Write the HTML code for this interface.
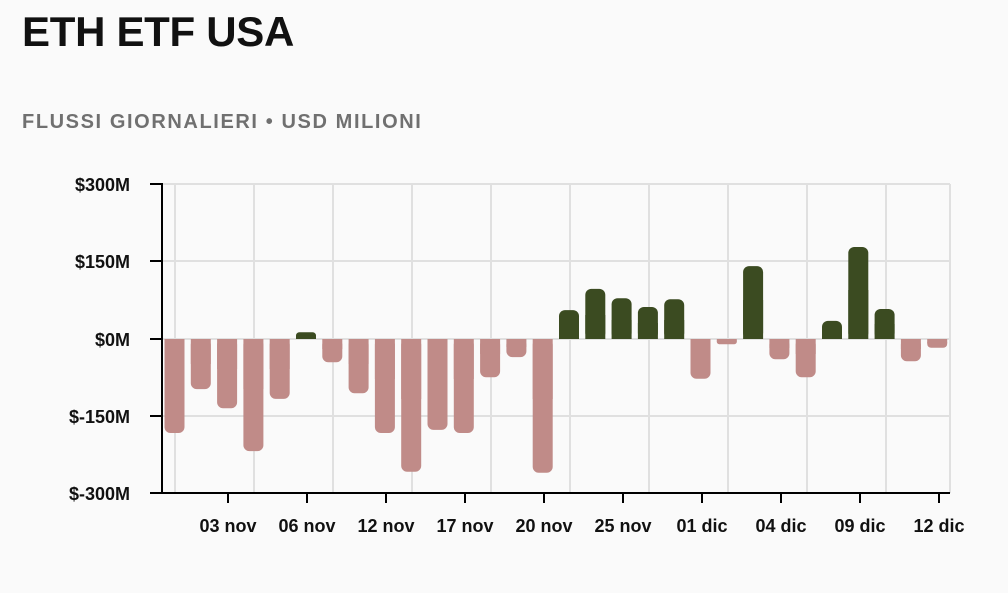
<!DOCTYPE html>
<html><head><meta charset="utf-8"><style>
html,body{margin:0;padding:0;background:#fafafa;}
body{width:1008px;height:588px;overflow:hidden;font-family:"Liberation Sans",sans-serif;}
</style></head><body>
<svg width="1008" height="588" xmlns="http://www.w3.org/2000/svg" font-family="Liberation Sans, sans-serif">
<rect width="1008" height="588" fill="#fafafa"/>
<text x="22" y="46" font-size="42" font-weight="bold" fill="#111" letter-spacing="-0.3">ETH ETF USA</text>
<text x="22" y="128" font-size="20" font-weight="bold" fill="#707070" letter-spacing="1.6">FLUSSI GIORNALIERI • USD MILIONI</text>
<g stroke="#e0e0e0" stroke-width="2">
<line x1="162" y1="184" x2="950" y2="184"/>
<line x1="162" y1="261" x2="950" y2="261"/>
<line x1="162" y1="416" x2="950" y2="416"/>
<line x1="950" y1="184" x2="950" y2="493"/>
<line x1="175" y1="184" x2="175" y2="493"/><line x1="254" y1="184" x2="254" y2="493"/><line x1="333" y1="184" x2="333" y2="493"/><line x1="412" y1="184" x2="412" y2="493"/><line x1="491" y1="184" x2="491" y2="493"/><line x1="570" y1="184" x2="570" y2="493"/><line x1="649" y1="184" x2="649" y2="493"/><line x1="728" y1="184" x2="728" y2="493"/><line x1="807" y1="184" x2="807" y2="493"/><line x1="886" y1="184" x2="886" y2="493"/>
<line x1="162" y1="339" x2="950" y2="339"/>
</g>
<g fill="#c08b88">
<rect x="164.5" y="339" width="20" height="94" rx="6"/><rect x="164.5" y="339" width="20" height="40"/>
<rect x="190.8" y="339" width="20" height="50.1" rx="6"/><rect x="190.8" y="339" width="20" height="25"/>
<rect x="217.1" y="339" width="20" height="69.2" rx="6"/><rect x="217.1" y="339" width="20" height="30"/>
<rect x="243.4" y="339" width="20" height="112.1" rx="6"/><rect x="243.4" y="339" width="20" height="50"/>
<rect x="269.7" y="339" width="20" height="59.9" rx="6"/><rect x="269.7" y="339" width="20" height="30"/>
<rect x="322.3" y="339" width="20" height="23.3" rx="6"/><rect x="322.3" y="339" width="20" height="10"/>
<rect x="348.6" y="339" width="20" height="54.3" rx="6"/><rect x="348.6" y="339" width="20" height="25"/>
<rect x="374.9" y="339" width="20" height="94" rx="6"/><rect x="374.9" y="339" width="20" height="40"/>
<rect x="401.2" y="339" width="20" height="132.8" rx="6"/><rect x="401.2" y="339" width="20" height="60"/>
<rect x="427.5" y="339" width="20" height="90.9" rx="6"/><rect x="427.5" y="339" width="20" height="40"/>
<rect x="453.8" y="339" width="20" height="94" rx="6"/><rect x="453.8" y="339" width="20" height="40"/>
<rect x="480.1" y="339" width="20" height="38.2" rx="6"/><rect x="480.1" y="339" width="20" height="15"/>
<rect x="506.4" y="339" width="20" height="18.1" rx="6"/><rect x="506.4" y="339" width="20" height="8"/>
<rect x="532.7" y="339" width="20" height="133.8" rx="6"/><rect x="532.7" y="339" width="20" height="60"/>
<rect x="690.5" y="339" width="20" height="39.8" rx="6"/><rect x="690.5" y="339" width="20" height="15"/>
<rect x="716.8" y="339" width="20" height="5.2" rx="2.5"/><rect x="716.8" y="339" width="20" height="2.5"/>
<rect x="769.4" y="339" width="20" height="20.2" rx="6"/><rect x="769.4" y="339" width="20" height="9"/>
<rect x="795.7" y="339" width="20" height="38.2" rx="6"/><rect x="795.7" y="339" width="20" height="15"/>
<rect x="900.9" y="339" width="20" height="22.2" rx="6"/><rect x="900.9" y="339" width="20" height="10"/>
<rect x="927.2" y="339" width="20" height="8.8" rx="4"/><rect x="927.2" y="339" width="20" height="4"/>
</g>
<g fill="#3b4b21">
<rect x="296" y="332.3" width="20" height="6.7" rx="3.3"/><rect x="296" y="335.6" width="20" height="3.4"/>
<rect x="559" y="310.1" width="20" height="28.9" rx="6"/><rect x="559" y="325" width="20" height="14"/>
<rect x="585.3" y="288.9" width="20" height="50.1" rx="6"/><rect x="585.3" y="315" width="20" height="24"/>
<rect x="611.6" y="298.2" width="20" height="40.8" rx="6"/><rect x="611.6" y="320" width="20" height="19"/>
<rect x="637.9" y="307" width="20" height="32" rx="6"/><rect x="637.9" y="323" width="20" height="16"/>
<rect x="664.2" y="299.2" width="20" height="39.8" rx="6"/><rect x="664.2" y="320" width="20" height="19"/>
<rect x="743.1" y="266.1" width="20" height="72.9" rx="6"/><rect x="743.1" y="300" width="20" height="39"/>
<rect x="822" y="320.9" width="20" height="18.1" rx="6"/><rect x="822" y="330" width="20" height="9"/>
<rect x="848.3" y="247" width="20" height="92" rx="6"/><rect x="848.3" y="290" width="20" height="49"/>
<rect x="874.6" y="309" width="20" height="30" rx="6"/><rect x="874.6" y="324" width="20" height="15"/>
</g>
<g stroke="#000" stroke-width="2">
<line x1="162" y1="183" x2="162" y2="494"/>
<line x1="161" y1="493" x2="950" y2="493"/>
<line x1="150" y1="184" x2="162" y2="184"/><line x1="150" y1="261" x2="162" y2="261"/><line x1="150" y1="339" x2="162" y2="339"/><line x1="150" y1="416" x2="162" y2="416"/><line x1="150" y1="493" x2="162" y2="493"/>
<line x1="228" y1="493" x2="228" y2="503"/><line x1="307" y1="493" x2="307" y2="503"/><line x1="386" y1="493" x2="386" y2="503"/><line x1="465" y1="493" x2="465" y2="503"/><line x1="544" y1="493" x2="544" y2="503"/><line x1="623" y1="493" x2="623" y2="503"/><line x1="702" y1="493" x2="702" y2="503"/><line x1="781" y1="493" x2="781" y2="503"/><line x1="860" y1="493" x2="860" y2="503"/><line x1="939" y1="493" x2="939" y2="503"/>
</g>
<g font-size="18" font-weight="bold" fill="#111" text-anchor="end">
<text x="130" y="191">$300M</text><text x="130" y="268">$150M</text><text x="130" y="346">$0M</text><text x="130" y="423">$-150M</text><text x="130" y="500">$-300M</text>
</g>
<g font-size="18" font-weight="bold" fill="#111" text-anchor="middle">
<text x="228" y="532">03 nov</text><text x="307" y="532">06 nov</text><text x="386" y="532">12 nov</text><text x="465" y="532">17 nov</text><text x="544" y="532">20 nov</text><text x="623" y="532">25 nov</text><text x="702" y="532">01 dic</text><text x="781" y="532">04 dic</text><text x="860" y="532">09 dic</text><text x="939" y="532">12 dic</text>
</g>
</svg>
</body></html>
